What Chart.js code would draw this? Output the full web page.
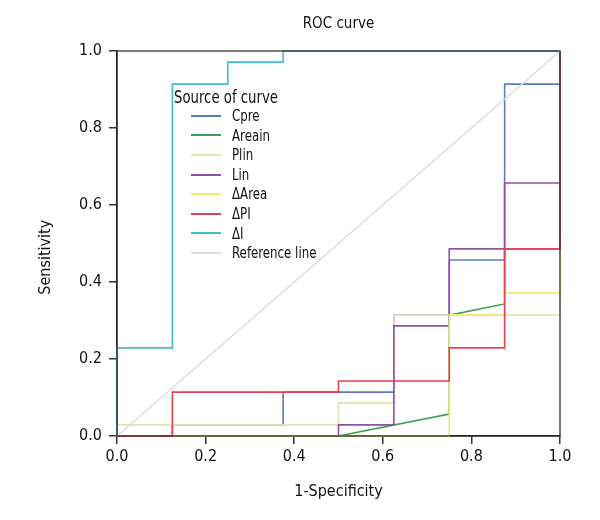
<!DOCTYPE html>
<html>
<head>
<meta charset="utf-8">
<script src="https://cdn.jsdelivr.net/npm/chart.js@4"></script>
<style>
  body { margin: 0; background: #fff; }
  #wrap { position: relative; width: 600px; height: 520px; }
  #legend {
    position: absolute; left: 174px; top: 86px;
    font-family: 'Liberation Sans Narrow', 'DejaVu Sans Condensed', sans-serif;
    color: #111;
  }
  #legend .ttl { font-size: 18px; line-height: 22px; margin-bottom: -2px; }
  #legend .ttl span, #legend .row .tx { display: inline-block; transform: scaleX(0.82); transform-origin: left center; white-space: nowrap; }
  #legend .row { font-size: 16px; line-height: 19.6px; height: 19.6px; display: flex; align-items: center; }
  #legend .sw { display: inline-block; width: 30px; height: 2px; margin: 0 11px 0 17px; }
</style>
</head>
<body>
<div id="wrap">
  <canvas id="rocChart" width="600" height="520"></canvas>
  <div id="legend"></div>
</div>
<script>
const labels = ["Cpre", "Areain", "Plin", "Lin", "\u0394Area", "\u0394PI", "\u0394I", "Reference line"];
const colors = ["#5b7bc4", "#3a9e50", "#e2e2b2", "#9150a8", "#f2ea6a", "#e8424e", "#43bccb", "#dcdce4"];

// ROC corner points (1-specificity, sensitivity)
const cpreX = [0, 0.125, 0.125, 0.375, 0.375, 0.625, 0.625, 0.75, 0.75, 0.875, 0.875, 1, 1];
const cpreY = [0, 0, 0.029, 0.029, 0.114, 0.114, 0.314, 0.314, 0.457, 0.457, 0.914, 0.914, 1];
const areainX = [0, 0.5, 0.75, 0.75, 0.875, 0.875, 1, 1];
const areainY = [0, 0, 0.057, 0.314, 0.343, 0.486, 0.486, 1];
const plinX = [0, 0, 0.5, 0.5, 0.625, 0.625, 1, 1];
const plinY = [0, 0.029, 0.029, 0.086, 0.086, 0.314, 0.314, 1];
const linX = [0, 0.5, 0.5, 0.625, 0.625, 0.75, 0.75, 0.875, 0.875, 1, 1];
const linY = [0, 0, 0.029, 0.029, 0.286, 0.286, 0.486, 0.486, 0.657, 0.657, 1];
const dAreaX = [0, 0.75, 0.75, 0.875, 0.875, 1, 1];
const dAreaY = [0, 0, 0.314, 0.314, 0.371, 0.371, 1];
const dPIX = [0, 0.125, 0.125, 0.5, 0.5, 0.75, 0.75, 0.875, 0.875, 1, 1];
const dPIY = [0, 0, 0.114, 0.114, 0.143, 0.143, 0.229, 0.229, 0.486, 0.486, 1];
const dIX = [0, 0, 0.125, 0.125, 0.25, 0.25, 0.375, 0.375, 1];
const dIY = [0, 0.229, 0.229, 0.914, 0.914, 0.971, 0.971, 1, 1];
const refX = [0, 1];
const refY = [0, 1];

const seriesX = [cpreX, areainX, plinX, linX, dAreaX, dPIX, dIX, refX];
const seriesY = [cpreY, areainY, plinY, linY, dAreaY, dPIY, dIY, refY];

const tickValues = [0, 0.2, 0.4, 0.6, 0.8, 1.0];

const font = "'Liberation Sans Narrow', 'DejaVu Sans Condensed', sans-serif";

const datasets = labels.map(function (name, i) {
  return {
    label: name,
    data: seriesX[i].map(function (x, k) { return { x: x, y: seriesY[i][k] }; }),
    borderColor: colors[i],
    borderWidth: 1.6,
    pointRadius: 0,
    fill: false,
    tension: 0,
    clip: 3,
    order: labels.length - 1 - i,
  };
});

// plot frame, drawn over the curves that run along the edges
const framePlugin = {
  id: "frame",
  afterDatasetsDraw(chart) {
    const a = chart.chartArea;
    const c = chart.ctx;
    c.save();
    c.strokeStyle = "rgba(34,34,34,0.8)";
    c.lineWidth = 1.5;
    c.strokeRect(a.left, a.top, a.right - a.left, a.bottom - a.top);
    c.restore();
  },
};

function axis(titleText, titlePad) {
  return {
    type: "linear",
    min: 0,
    max: 1,
    afterBuildTicks: function (ax) { ax.ticks = tickValues.map(function (v) { return { value: v }; }); },
    ticks: {
      color: "#111",
      font: { family: font, size: 16 },
      padding: 3,
      callback: function (v) { return v.toFixed(1); },
    },
    grid: { drawOnChartArea: false, tickLength: 8, color: "#333", lineWidth: 1.5 },
    border: { display: true, color: "#333", width: 1.5 },
    title: {
      display: true,
      text: titleText,
      color: "#111",
      font: { family: font, size: 16 },
      padding: titlePad,
    },
  };
}

const xAxis = axis("1-Specificity", { top: 0, bottom: 19 });
xAxis.position = "bottom";
xAxis.afterFit = function (ax) { ax.height = 84; };
const yAxis = axis("Sensitivity\u00a0\u00a0\u00a0\u00a0\u00a0\u00a0", { top: 36, bottom: 0 });
yAxis.position = "left";
yAxis.ticks.padding = 7;
yAxis.afterFit = function (ax) { ax.width = 117; };

new Chart(document.getElementById("rocChart").getContext("2d"), {
  type: "line",
  data: { datasets: datasets },
  options: {
    responsive: false,
    animation: false,
    layout: { padding: { left: 0, right: 40, top: 0, bottom: 0 } },
    scales: { x: xAxis, y: yAxis },
    plugins: {
      legend: { display: false },
      tooltip: { enabled: false },
      title: {
        display: true,
        text: "ROC curve",
        fullSize: false,
        color: "#111",
        font: { family: font, size: 15, weight: "normal" },
        padding: { top: 15, bottom: 18 },
      },
    },
  },
  plugins: [framePlugin],
});

// legend built from the same arrays
const legend = document.getElementById("legend");
let html = '<div class="ttl"><span>Source of curve</span></div>';
labels.forEach(function (name, i) {
  html += '<div class="row"><span class="sw" style="background:' + colors[i] + '"></span><span class="tx">' + name + "</span></div>";
});
legend.innerHTML = html;
</script>
</body>
</html>
